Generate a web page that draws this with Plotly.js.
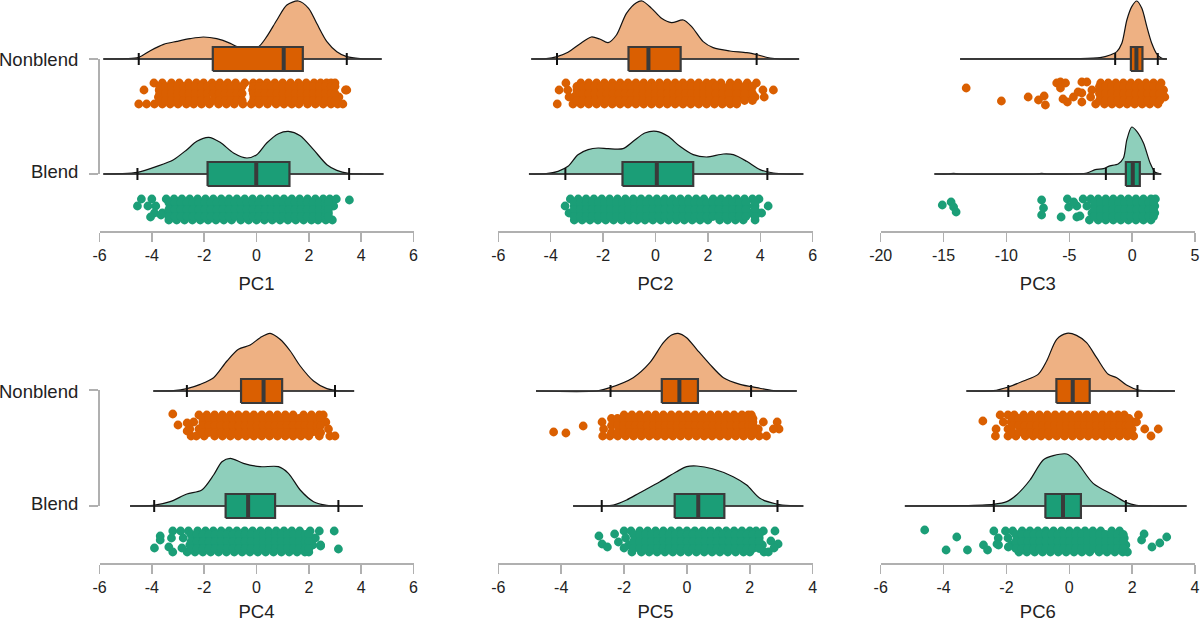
<!DOCTYPE html>
<html>
<head>
<meta charset="utf-8">
<script src="https://cdn.plot.ly/plotly-3.0.1.min.js"></script>
<style>html,body{margin:0;padding:0;background:#fff}</style>
</head>
<body>
<div id="chart" style="width:1200px;height:622px"></div>
<script>
var groupLabels = ['Nonblend', 'Blend'];
var panelTitles = ['PC1', 'PC2', 'PC3', 'PC4', 'PC5', 'PC6'];
var wideTicks = [-6, -4, -2, 0, 2, 4, 6];
var shortTicks = [-6, -4, -2, 0, 2, 4];
var pc3Ticks = [-20, -15, -10, -5, 0, 5];

// every box: lower whisker, q1, median, q3, upper whisker
var pc1NonblendX = [-5.85,-5,-4.5,-4.06,-3.55,-3.04,-2.54,-2.03,-1.52,-1,-0.75,-0.37,0.08,0.39,0.78,1.16,1.6,1.99,2.3,2.69,3.07,3.45,3.96,4.78];
var pc1NonblendH = [0,1,5,25,44,53,61,66,61,47,37,29,37,67,117,162,174,152,107,52,22,7,1,0];
var pc1NonblendBox = [-4.5,-1.67,1.04,1.77,3.45];
var pc1NonblendRows = [
  [-3.92,-3.6,-3.25,-2.95,-2.6,-2.3,-2.02,-1.7,-1.4,-1.1,-0.8,-0.45,-0.12,0.12,0.4,0.7,1,1.3,1.6,1.9,2.2,2.45,2.68,2.85,3],
  [-4.3,-3.72,-3.4,-3.1,-2.8,-2.45,-2.15,-1.85,-1.55,-1.25,-0.95,-0.62,-0.15,0.22,0.55,0.85,1.15,1.45,1.75,2.05,2.35,2.6,2.9,3.4,3.45],
  [-3.75,-3.45,-3.15,-2.85,-2.55,-2.25,-1.95,-1.6,-1.3,-1,-0.7,-0.1,0.08,0.38,0.7,1,1.3,1.6,1.9,2.2,2.5,2.78,3.05,3.15],
  [-4.5,-4.2,-3.9,-3.6,-3.3,-3,-2.68,-2.4,-2.1,-1.8,-1.45,-1.15,-0.85,-0.52,-0.2,0.1,0.42,0.75,1.05,1.35,1.62,1.95,2.25,2.55,2.85,3.1,3.3]
];
var pc1NonblendFill = [-3.7,-3.48,-3.25,-3.02,-2.8,-2.57,-2.34,-2.11,-1.88,-1.65,-1.42,-1.2,-0.97,-0.74,-0.55,-0.12,0.1,0.33,0.56,0.79,1.02,1.25,1.48,1.71,1.94,2.17,2.4,2.63,2.86,3];
var pc1NonblendTailX = [];
var pc1NonblendTailY = [];

var pc1BlendX = [-5.85,-5.2,-4.55,-3.81,-3.17,-2.66,-2.28,-1.83,-1.39,-0.88,-0.37,0.01,0.39,0.84,1.22,1.67,2.18,2.69,3.07,3.52,4.09,4.85];
var pc1BlendH = [0,1,5,23,43,73,98,110,95,63,48,58,93,121,128,115,73,28,11,2,0,0];
var pc1BlendBox = [-4.55,-1.87,-0.01,1.26,3.54];
var pc1BlendRows = [
  [-4.4,-4,-3.45,-3.15,-2.85,-2.55,-2.25,-1.95,-1.65,-1.35,-1.05,-0.75,-0.45,-0.15,0.15,0.45,0.75,1.05,1.35,1.65,1.95,2.25,2.55,2.8,3.05],
  [-4.55,-4.15,-3.85,-3.3,-3,-2.7,-2.4,-2.1,-1.8,-1.5,-1.2,-0.9,-0.6,-0.2,0,0.3,0.6,0.9,1.2,1.5,1.8,2.1,2.4,2.7,2.95],
  [-3.9,-3.6,-3.35,-3.05,-2.75,-2.45,-2.15,-1.85,-1.55,-1.25,-0.95,-0.65,-0.35,-0.05,0.25,0.55,0.85,1.15,1.45,1.75,2.05,2.35,2.6,2.75],
  [-3.35,-3.05,-2.75,-2.45,-2.15,-1.85,-1.55,-1.25,-0.95,-0.6,-0.3,0,0.3,0.6,0.9,1.2,1.5,1.8,2.1,2.35,2.65,2.9]
];
var pc1BlendFill = [-3.35,-3.12,-2.89,-2.66,-2.43,-2.2,-1.97,-1.74,-1.51,-1.28,-1.05,-0.82,-0.59,-0.36,-0.13,0.1,0.33,0.56,0.79,1.02,1.25,1.48,1.71,1.94,2.17,2.4,2.63,2.75];
var pc1BlendTailX = [3.55,-4.05,-3.65];
var pc1BlendTailY = [31,14,16];

var pc2NonblendX = [-4.74,-4.17,-3.76,-3.34,-2.89,-2.45,-2.13,-1.81,-1.49,-1.11,-0.73,-0.51,-0.15,0.23,0.61,1.06,1.38,1.82,2.2,2.84,3.48,3.92,4.37,4.75,5.48];
var pc2NonblendH = [0,1,7,20,45,66,60,49,72,137,169,174,152,122,109,117,97,52,34,24,19,12,3,0,0];
var pc2NonblendBox = [-3.76,-1.03,-0.27,0.96,3.86];
var pc2NonblendRows = [
  [-3.42,-2.85,-2.55,-2.25,-1.95,-1.65,-1.35,-1.05,-0.75,-0.45,-0.15,0.15,0.45,0.75,1.05,1.35,1.65,1.95,2.2,2.5,2.85,3.15,3.5,3.85],
  [-3.68,-3.35,-3,-2.7,-2.4,-2.1,-1.8,-1.5,-1.2,-0.9,-0.6,-0.3,0,0.3,0.6,0.9,1.2,1.5,1.8,2.1,2.35,2.65,3,3.3,3.65,4.1],
  [-3.3,-3.1,-2.85,-2.55,-2.25,-1.95,-1.65,-1.35,-1.05,-0.75,-0.45,-0.15,0.15,0.45,0.75,1.05,1.35,1.65,1.95,2.25,2.55,2.85,3.2,3.45,3.8,4.15],
  [-3.75,-3.15,-2.85,-2.55,-2.25,-1.95,-1.65,-1.35,-1.05,-0.75,-0.45,-0.15,0.15,0.45,0.75,1.05,1.35,1.65,1.95,2.25,2.55,2.85,3.1]
];
var pc2NonblendFill = [-3,-2.77,-2.54,-2.31,-2.08,-1.85,-1.62,-1.39,-1.16,-0.93,-0.7,-0.47,-0.24,-0.01,0.22,0.45,0.68,0.91,1.14,1.37,1.6,1.83,2.06,2.3,2.55,2.8,3.1,3.4,3.7];
var pc2NonblendTailX = [4.5];
var pc2NonblendTailY = [141];

var pc2BlendX = [-4.83,-4.17,-3.72,-3.34,-2.96,-2.57,-2.19,-1.81,-1.24,-0.85,-0.41,0.04,0.48,0.93,1.44,1.95,2.59,2.97,3.48,3.99,4.5,5,5.64];
var pc2BlendH = [0,1,8,23,58,73,78,76,76,98,123,128,113,83,58,51,60,58,38,13,3,0,0];
var pc2BlendBox = [-3.44,-1.26,0.05,1.44,4.27];
var pc2BlendRows = [
  [-3.25,-2.95,-2.65,-2.35,-2.05,-1.75,-1.45,-1.15,-0.85,-0.55,-0.25,0.05,0.35,0.65,0.95,1.25,1.55,1.85,2.2,2.5,2.8,3.1,3.4,3.7,3.95],
  [-3.45,-3.1,-2.8,-2.5,-2.2,-1.9,-1.6,-1.3,-1,-0.7,-0.4,-0.1,0.2,0.5,0.8,1.1,1.4,1.7,2,2.3,2.6,2.9,3.2,3.5,3.8,4.3],
  [-3.3,-2.95,-2.65,-2.35,-2.05,-1.75,-1.45,-1.15,-0.85,-0.55,-0.25,0.05,0.35,0.65,0.95,1.25,1.55,1.85,2.15,2.45,2.75,3.05,3.35,3.65,3.9,4.05],
  [-3.1,-2.8,-2.5,-2.2,-1.9,-1.6,-1.3,-1,-0.7,-0.4,-0.1,0.2,0.5,0.8,1.1,1.4,1.7,2,2.45,2.75,3.05,3.35,3.8]
];
var pc2BlendFill = [-3.1,-2.87,-2.64,-2.41,-2.18,-1.95,-1.72,-1.49,-1.26,-1.03,-0.8,-0.57,-0.34,-0.11,0.12,0.35,0.58,0.81,1.04,1.27,1.5,1.73,1.96,2.19,2.42,2.7,2.95,3.2,3.45,3.8];
var pc2BlendTailX = [];
var pc2BlendTailY = [];

var pc3NonblendX = [-13.68,-6,-4.27,-2.55,-1.75,-1.22,-0.82,-0.42,-0.03,0.37,0.77,1.17,1.56,1.96,2.36,2.76];
var pc3NonblendH = [0,1,1,4,12,22,47,117,157,174,152,97,47,15,2,0];
var pc3NonblendBox = [-1.35,-0.1,0.34,0.82,2.04];
var pc3NonblendRows = [
  [-2.5,-1.9,-1.3,-0.7,-0.1,0.5,1.1,1.7,2.3],
  [-3.2,-2.6,-2,-1.4,-0.8,-0.2,0.4,1,1.6,2.2,2.5],
  [-3.3,-2.5,-1.9,-1.3,-0.7,-0.1,0.5,1.1,1.7,2.3,2.6],
  [-2.9,-2.2,-1.6,-1,-0.4,0.2,0.8,1.4,2.05]
];
var pc3NonblendFill = [-2.6,-2.12,-1.64,-1.16,-0.68,-0.2,0.28,0.76,1.24,1.72,2.2];
var pc3NonblendTailX = [-13.2,-10.4,-8.27,-7.45,-7,-6.9,-6,-5.7,-5.7,-5.3,-5.5,-5.15,-4.67,-4.3,-4,-4,-3.6,-4];
var pc3NonblendTailY = [143,130,134,131,135,126,148,149,143,148,132,129,134,139,149,129,149,138];

var pc3BlendX = [-15.72,-14.6,-14.2,-13.8,-7.6,-7.2,-6.8,-3.6,-2.94,-2.28,-1.88,-1.09,-0.69,-0.42,-0.03,0.37,0.9,1.43,1.83,2.31];
var pc3BlendH = [0,0,2,0,0,2,0,3,13,16,23,31,48,103,141,128,93,33,5,0];
var pc3BlendBox = [-2.09,-0.5,0.05,0.61,1.72];
var pc3BlendRows = [
  [-3.9,-3.3,-2.7,-2.1,-1.5,-0.9,-0.3,0.3,0.9,1.5,1.85],
  [-4.4,-3.6,-3,-2.4,-1.8,-1.2,-0.6,0,0.6,1.2,1.8],
  [-3.2,-2.6,-2,-1.4,-0.8,-0.2,0.4,1,1.6,1.8],
  [-3.4,-2.7,-2.1,-1.5,-0.9,-0.3,0.3,0.9,1.5]
];
var pc3BlendFill = [-3,-2.52,-2.04,-1.56,-1.08,-0.6,-0.12,0.36,0.84,1.32,1.7];
var pc3BlendTailX = [-15.1,-14.4,-14.2,-14,-7.2,-7.05,-7.2,-5.15,-5.65,-5.05,-4.4,-4.15,-4.65];
var pc3BlendTailY = [26,29,24,19,31,23,16,32,14,24,14,15,29];

var pc4NonblendX = [-3.94,-3.17,-2.66,-2.15,-1.64,-1.13,-0.69,-0.24,0.14,0.52,0.9,1.29,1.67,2.18,2.69,3.07,3.73];
var pc4NonblendH = [0,1,7,20,40,90,125,138,160,173,155,120,75,30,7,1,0];
var pc4NonblendBox = [-2.66,-0.59,0.27,0.98,3];
var pc4NonblendRows = [
  [-2.2,-1.9,-1.6,-1.3,-1,-0.7,-0.4,-0.1,0.2,0.5,0.8,1.1,1.4,1.8,2.1,2.4,2.55],
  [-2.4,-2.05,-1.75,-1.45,-1.15,-0.85,-0.55,-0.25,0.05,0.35,0.65,0.95,1.25,1.55,1.85,2.15,2.45,2.65],
  [-2.55,-2.2,-1.9,-1.6,-1.3,-1,-0.7,-0.4,-0.1,0.2,0.5,0.8,1.1,1.4,1.7,2,2.3,2.75],
  [-2.5,-2.3,-2,-1.6,-1.3,-1,-0.7,-0.4,-0.1,0.2,0.5,0.8,1.1,1.4,1.7,2,2.4,2.8,3]
];
var pc4NonblendFill = [-2.05,-1.82,-1.59,-1.36,-1.13,-0.9,-0.67,-0.44,-0.21,0.02,0.25,0.48,0.71,0.94,1.17,1.4,1.63,1.86,2.09,2.32,2.45];
var pc4NonblendTailX = [-3.2,-3,-2.65,-2.65];
var pc4NonblendTailY = [149,138,140,132];

var pc4BlendX = [-4.83,-3.94,-3.3,-2.66,-2.09,-1.64,-1.32,-1,-0.5,0.14,0.84,1.22,1.67,2.18,2.69,3.2,4.06];
var pc4BlendH = [0,2,13,36,48,93,133,143,128,118,118,98,48,13,2,0,0];
var pc4BlendBox = [-3.91,-1.18,-0.32,0.71,3.13];
var pc4BlendRows = [
  [-3.2,-2.9,-2.6,-2.25,-1.95,-1.65,-1.35,-1.05,-0.75,-0.45,-0.15,0.15,0.45,0.75,1.05,1.35,1.65,2.05,2.4,2.97],
  [-3.25,-2.8,-2.4,-2.1,-1.8,-1.5,-1.2,-0.9,-0.6,-0.3,0,0.3,0.6,0.9,1.2,1.5,1.8,2.05,2.25],
  [-2.55,-2.25,-1.95,-1.65,-1.35,-1.05,-0.75,-0.45,-0.15,0.15,0.45,0.75,1.05,1.35,1.65,1.95,2.15,2.45],
  [-3.2,-2.65,-2.35,-2.05,-1.75,-1.45,-1.15,-0.85,-0.55,-0.25,0.05,0.35,0.65,0.95,1.25,1.55,1.85,2]
];
var pc4BlendFill = [-2.5,-2.27,-2.04,-1.81,-1.58,-1.35,-1.12,-0.89,-0.66,-0.43,-0.2,0.03,0.26,0.49,0.72,0.95,1.18,1.41,1.64,1.87,2];
var pc4BlendTailX = [-3.68,-3.68,-3.9,-3.35,-2.85,3.13,2.45];
var pc4BlendTailY = [27,23,15,16,15,14,17];

var pc5NonblendX = [-4.8,-2.87,-2.45,-1.71,-1.18,-0.75,-0.49,-0.28,-0.01,0.31,0.73,1.16,1.69,2.22,2.75,3.49];
var pc5NonblendH = [0,0,10,40,85,145,168,173,160,125,80,40,20,10,1,0];
var pc5NonblendBox = [-2.43,-0.8,-0.24,0.35,2.04];
var pc5NonblendRows = [
  [-2,-1.75,-1.5,-1.25,-1,-0.75,-0.5,-0.25,0,0.25,0.5,0.75,1,1.25,1.5,1.75,1.95,2.05],
  [-2.7,-2.3,-2.05,-1.85,-1.6,-1.35,-1.1,-0.85,-0.6,-0.35,-0.1,0.15,0.4,0.65,0.9,1.15,1.4,1.65,1.9,2.1,2.43,2.87],
  [-2.65,-2.1,-1.95,-1.7,-1.45,-1.2,-0.95,-0.7,-0.45,-0.2,0.05,0.3,0.55,0.8,1.05,1.3,1.55,1.8,2.05,2.27,2.93,2.75],
  [-2.68,-2.45,-2.2,-1.95,-1.7,-1.45,-1.2,-0.95,-0.7,-0.45,-0.2,0.05,0.3,0.55,0.8,1.05,1.3,1.55,1.8,2.05,2.3,2.53]
];
var pc5NonblendFill = [-2.4,-2.21,-2.02,-1.83,-1.64,-1.45,-1.26,-1.07,-0.88,-0.69,-0.5,-0.31,-0.12,0.07,0.26,0.45,0.64,0.83,1.02,1.21,1.4,1.59,1.78,1.97,2.1];
var pc5NonblendTailX = [-4.24,-3.85,-3.3];
var pc5NonblendTailY = [131,130,137];

var pc5BlendX = [-3.62,-2.34,-1.92,-1.5,-0.86,-0.33,-0.01,0.31,0.84,1.47,1.9,2.32,2.85,3.28,3.7];
var pc5BlendH = [0,3,18,40,73,103,118,120,111,88,63,23,6,1,0];
var pc5BlendBox = [-2.71,-0.39,0.36,1.19,2.88];
var pc5BlendRows = [
  [-2,-1.78,-1.5,-1.25,-1,-0.75,-0.5,-0.25,0,0.25,0.5,0.75,1,1.25,1.5,1.75,2,2.2,2.43,2.8],
  [-1.95,-1.65,-1.4,-1.15,-0.9,-0.65,-0.4,-0.15,0.1,0.35,0.6,0.85,1.1,1.35,1.6,1.85,2.1,2.3],
  [-1.85,-1.75,-1.5,-1.25,-1,-0.75,-0.5,-0.25,0,0.25,0.5,0.75,1,1.25,1.5,1.75,2,2.25,2.4],
  [-1.75,-1.45,-1.2,-0.95,-0.7,-0.45,-0.2,0.05,0.3,0.55,0.8,1.05,1.3,1.55,1.8,2,2.45,2.59]
];
var pc5BlendFill = [-1.7,-1.51,-1.32,-1.13,-0.94,-0.75,-0.56,-0.37,-0.18,0.01,0.2,0.39,0.58,0.77,0.96,1.15,1.34,1.53,1.72,1.91,2.1,2.3];
var pc5BlendTailX = [-2.8,-2.7,-2.53,-2.3,-2.18,-2,2.67,2.9,2.77];
var pc5BlendTailY = [27,19,16,29,21,15,22,19,15];

var pc6NonblendX = [-3.27,-2.42,-1.94,-1.46,-0.99,-0.72,-0.4,-0.08,0.23,0.55,0.87,1.24,1.51,1.82,2.2,2.67,3.36];
var pc6NonblendH = [0,1,12,30,50,90,155,173,167,145,100,50,40,18,3,0,0];
var pc6NonblendBox = [-1.94,-0.41,0.11,0.65,2.17];
var pc6NonblendRows = [
  [-2.2,-1.95,-1.75,-1.45,-1.2,-0.95,-0.7,-0.45,-0.2,0.05,0.3,0.55,0.8,1.05,1.3,1.55,1.75,2.2],
  [-2.1,-1.85,-1.6,-1.35,-1.1,-0.85,-0.6,-0.35,-0.1,0.15,0.4,0.65,0.9,1.15,1.4,1.65,1.85,2.03,2.14],
  [-2.33,-1.95,-1.4,-1.2,-0.95,-0.7,-0.45,-0.2,0.05,0.3,0.55,0.8,1.05,1.3,1.55,1.8,2,2.4,2.83],
  [-2.35,-1.95,-1.7,-1.4,-1.15,-0.9,-0.65,-0.4,-0.15,0.1,0.35,0.6,0.85,1.1,1.35,1.6,1.85,2.05,2.6]
];
var pc6NonblendFill = [-1.8,-1.61,-1.42,-1.23,-1.04,-0.85,-0.66,-0.47,-0.28,-0.09,0.1,0.29,0.48,0.67,0.86,1.05,1.24,1.43,1.62,1.81,1.9];
var pc6NonblendTailX = [-2.75];
var pc6NonblendTailY = [142];

var pc6BlendX = [-5.23,-3.48,-2.42,-1.99,-1.68,-1.25,-0.83,-0.51,-0.08,0.23,0.76,1.4,1.82,2.14,2.67,3.73];
var pc6BlendH = [0,1,5,13,33,78,138,151,156,133,68,33,10,2,0,0];
var pc6BlendBox = [-2.4,-0.76,-0.2,0.37,1.8];
var pc6BlendRows = [
  [-2.4,-2.03,-1.8,-1.5,-1.25,-1,-0.75,-0.5,-0.25,0,0.25,0.5,0.75,1.0,1.35,1.6],
  [-2.26,-1.95,-1.65,-1.4,-1.15,-0.9,-0.65,-0.4,-0.15,0.1,0.35,0.6,0.85,1.1,1.35,1.6,1.75],
  [-1.85,-1.7,-1.45,-1.2,-0.95,-0.7,-0.45,-0.2,0.05,0.3,0.55,0.8,1.05,1.3,1.55,1.8],
  [-1.6,-1.35,-1.1,-0.85,-0.6,-0.35,-0.1,0.15,0.4,0.65,0.95,1.2,1.45,1.7,1.85]
];
var pc6BlendFill = [-1.7,-1.51,-1.32,-1.13,-0.94,-0.75,-0.56,-0.37,-0.18,0.01,0.2,0.39,0.58,0.77,0.96,1.15,1.34,1.53,1.72];
var pc6BlendTailX = [-4.6,-3.58,-3.92,-3.24,-2.73,-2.6,-2.3,-2.25,-1.94,2.38,2.3,3.1,2.88,2.63];
var pc6BlendTailY = [33,26,13,13,18,13,19,18,16,29,23,26,20,16];

var nonblendBase = 172;
var blendBase = 57;
var nonblendLevels = [148, 141, 134, 127];
var blendLevels = [32, 25, 18, 11];
var nonblendFillLevels = [144.5, 137.5, 130.5];
var blendFillLevels = [28.5, 21.5, 14.5];

var orange = '#DA5F01';
var orangeFill = '#EEB183';
var green = '#1B9E77';
var greenFill = '#8ECFBB';
var dark = '#3a3a3a';
var traces = [];

function addGroup(n, base, levels, fillLevels, color, fillColor, xs, hs, box, rows, fill, tailX, tailY) {
  var xa = 'x' + n, ya = 'y' + n;
  var px = [], py = [];
  rows.forEach(function (row, i) {
    row.forEach(function (v) { px.push(v); py.push(levels[i]); });
  });
  fillLevels.forEach(function (lev) {
    fill.forEach(function (v) { px.push(v); py.push(lev); });
  });
  tailX.forEach(function (v, i) { px.push(v); py.push(tailY[i]); });
  traces.push({x: px, y: py, xaxis: xa, yaxis: ya, mode: 'markers',
    marker: {color: color, size: 8.8, line: {width: 0}}, hoverinfo: 'skip'});
  // flat base first, the density fills down to it
  var x0 = xs[0], x1 = xs[xs.length - 1];
  traces.push({x: [x0, x1], y: [base, base], xaxis: xa, yaxis: ya, mode: 'lines',
    line: {color: dark, width: 1.5}, hoverinfo: 'skip'});
  traces.push({x: xs, y: hs.map(function (h) { return base + h / 3; }), xaxis: xa, yaxis: ya,
    mode: 'lines', fill: 'tonexty', fillcolor: fillColor,
    line: {color: '#111', width: 1.2, shape: 'spline', smoothing: 0.8}, hoverinfo: 'skip'});
  traces.push({x: [x0, x1], y: [base, base], xaxis: xa, yaxis: ya, mode: 'lines',
    line: {color: dark, width: 1.5}, hoverinfo: 'skip'});
  // whisker caps
  traces.push({x: [box[0], box[0], null, box[4], box[4]],
    y: [base - 6, base + 6, null, base - 6, base + 6], xaxis: xa, yaxis: ya, mode: 'lines',
    line: {color: '#111', width: 2}, hoverinfo: 'skip'});
  traces.push({x: [box[1], box[3], box[3], box[1], box[1]],
    y: [base - 12, base - 12, base + 12, base + 12, base - 12], xaxis: xa, yaxis: ya,
    mode: 'lines', fill: 'toself', fillcolor: color, line: {color: dark, width: 2.2}, hoverinfo: 'skip'});
  traces.push({x: [box[2], box[2]], y: [base - 12, base + 12], xaxis: xa, yaxis: ya, mode: 'lines',
    line: {color: dark, width: 4}, hoverinfo: 'skip'});
}

function addNonblend(n, xs, hs, box, rows, fill, tailX, tailY) {
  addGroup(n, nonblendBase, nonblendLevels, nonblendFillLevels, orange, orangeFill, xs, hs, box, rows, fill, tailX, tailY);
}
function addBlend(n, xs, hs, box, rows, fill, tailX, tailY) {
  addGroup(n, blendBase, blendLevels, blendFillLevels, green, greenFill, xs, hs, box, rows, fill, tailX, tailY);
}

addNonblend(1, pc1NonblendX, pc1NonblendH, pc1NonblendBox, pc1NonblendRows, pc1NonblendFill, pc1NonblendTailX, pc1NonblendTailY);
addBlend(1, pc1BlendX, pc1BlendH, pc1BlendBox, pc1BlendRows, pc1BlendFill, pc1BlendTailX, pc1BlendTailY);
addNonblend(2, pc2NonblendX, pc2NonblendH, pc2NonblendBox, pc2NonblendRows, pc2NonblendFill, pc2NonblendTailX, pc2NonblendTailY);
addBlend(2, pc2BlendX, pc2BlendH, pc2BlendBox, pc2BlendRows, pc2BlendFill, pc2BlendTailX, pc2BlendTailY);
addNonblend(3, pc3NonblendX, pc3NonblendH, pc3NonblendBox, pc3NonblendRows, pc3NonblendFill, pc3NonblendTailX, pc3NonblendTailY);
addBlend(3, pc3BlendX, pc3BlendH, pc3BlendBox, pc3BlendRows, pc3BlendFill, pc3BlendTailX, pc3BlendTailY);
addNonblend(4, pc4NonblendX, pc4NonblendH, pc4NonblendBox, pc4NonblendRows, pc4NonblendFill, pc4NonblendTailX, pc4NonblendTailY);
addBlend(4, pc4BlendX, pc4BlendH, pc4BlendBox, pc4BlendRows, pc4BlendFill, pc4BlendTailX, pc4BlendTailY);
addNonblend(5, pc5NonblendX, pc5NonblendH, pc5NonblendBox, pc5NonblendRows, pc5NonblendFill, pc5NonblendTailX, pc5NonblendTailY);
addBlend(5, pc5BlendX, pc5BlendH, pc5BlendBox, pc5BlendRows, pc5BlendFill, pc5BlendTailX, pc5BlendTailY);
addNonblend(6, pc6NonblendX, pc6NonblendH, pc6NonblendBox, pc6NonblendRows, pc6NonblendFill, pc6NonblendTailX, pc6NonblendTailY);
addBlend(6, pc6BlendX, pc6BlendH, pc6BlendBox, pc6BlendRows, pc6BlendFill, pc6BlendTailX, pc6BlendTailY);

// hidden carriers for the two bracket axes on the left
traces.push({x: [-6, -6], y: [blendBase, nonblendBase], xaxis: 'x1', yaxis: 'y7', mode: 'lines', line: {width: 0}, hoverinfo: 'skip'});
traces.push({x: [-6, -6], y: [blendBase, nonblendBase], xaxis: 'x4', yaxis: 'y8', mode: 'lines', line: {width: 0}, hoverinfo: 'skip'});

var W = 1200, H = 622;
var axisColor = '#b0b0b0';
var textColor = '#222';
var font = 'Liberation Sans, Arial, sans-serif';

function xAxis(n, left, right, range, ticks) {
  return {
    domain: [left / W, right / W], range: range, anchor: 'y' + n,
    tickmode: 'array', tickvals: ticks, ticktext: ticks.map(String),
    ticks: 'outside', ticklen: 9, tickwidth: 1.5, tickcolor: axisColor,
    showline: true, linecolor: axisColor, linewidth: 1.5, showgrid: false, zeroline: false,
    tickfont: {family: font, size: 16, color: textColor},
    title: {text: panelTitles[n - 1], font: {family: font, size: 18.5, color: textColor}, standoff: 14}
  };
}

function yAxis(n, top, bottom) {
  return {domain: [1 - bottom / H, 1 - top / H], range: [0, 231], anchor: 'x' + n, visible: false, fixedrange: true};
}

function bracket(n, top, bottom) {
  return {
    domain: [1 - bottom / H, 1 - top / H], range: [blendBase, nonblendBase], anchor: 'x' + n,
    tickmode: 'array', tickvals: [nonblendBase, blendBase], showticklabels: false,
    ticks: 'outside', ticklen: 9, tickwidth: 1.5, tickcolor: axisColor,
    showline: true, linecolor: axisColor, linewidth: 1.5, showgrid: false, zeroline: false
  };
}

function rowLabel(text, py) {
  return {text: text, xref: 'paper', yref: 'paper', x: 80 / W, y: 1 - py / H, xanchor: 'right', yanchor: 'middle',
    showarrow: false, font: {family: font, size: 18.5, color: textColor}};
}

var layout = {
  width: W, height: H, autosize: false, showlegend: false,
  margin: {l: 0, r: 0, t: 0, b: 0},
  paper_bgcolor: '#fff', plot_bgcolor: 'rgba(0,0,0,0)',
  xaxis1: xAxis(1, 99.5, 413.5, [-6, 6], wideTicks),
  xaxis2: xAxis(2, 498.3, 812.7, [-6, 6], wideTicks),
  xaxis3: xAxis(3, 880.7, 1195, [-20, 5], pc3Ticks),
  xaxis4: xAxis(4, 99.5, 413.5, [-6, 6], wideTicks),
  xaxis5: xAxis(5, 498.3, 812.7, [-6, 4], shortTicks),
  xaxis6: xAxis(6, 880.7, 1195, [-6, 4], shortTicks),
  yaxis1: yAxis(1, 0, 231),
  yaxis2: yAxis(2, 0, 231),
  yaxis3: yAxis(3, 0, 231),
  yaxis4: yAxis(4, 332, 563),
  yaxis5: yAxis(5, 332, 563),
  yaxis6: yAxis(6, 332, 563),
  yaxis7: bracket(1, 59, 174),
  yaxis8: bracket(4, 390, 506),
  annotations: [
    rowLabel(groupLabels[0], 59),
    rowLabel(groupLabels[1], 171),
    rowLabel(groupLabels[0], 391),
    rowLabel(groupLabels[1], 503)
  ]
};

Plotly.newPlot('chart', traces, layout, {staticPlot: true});
</script>
</body>
</html>
